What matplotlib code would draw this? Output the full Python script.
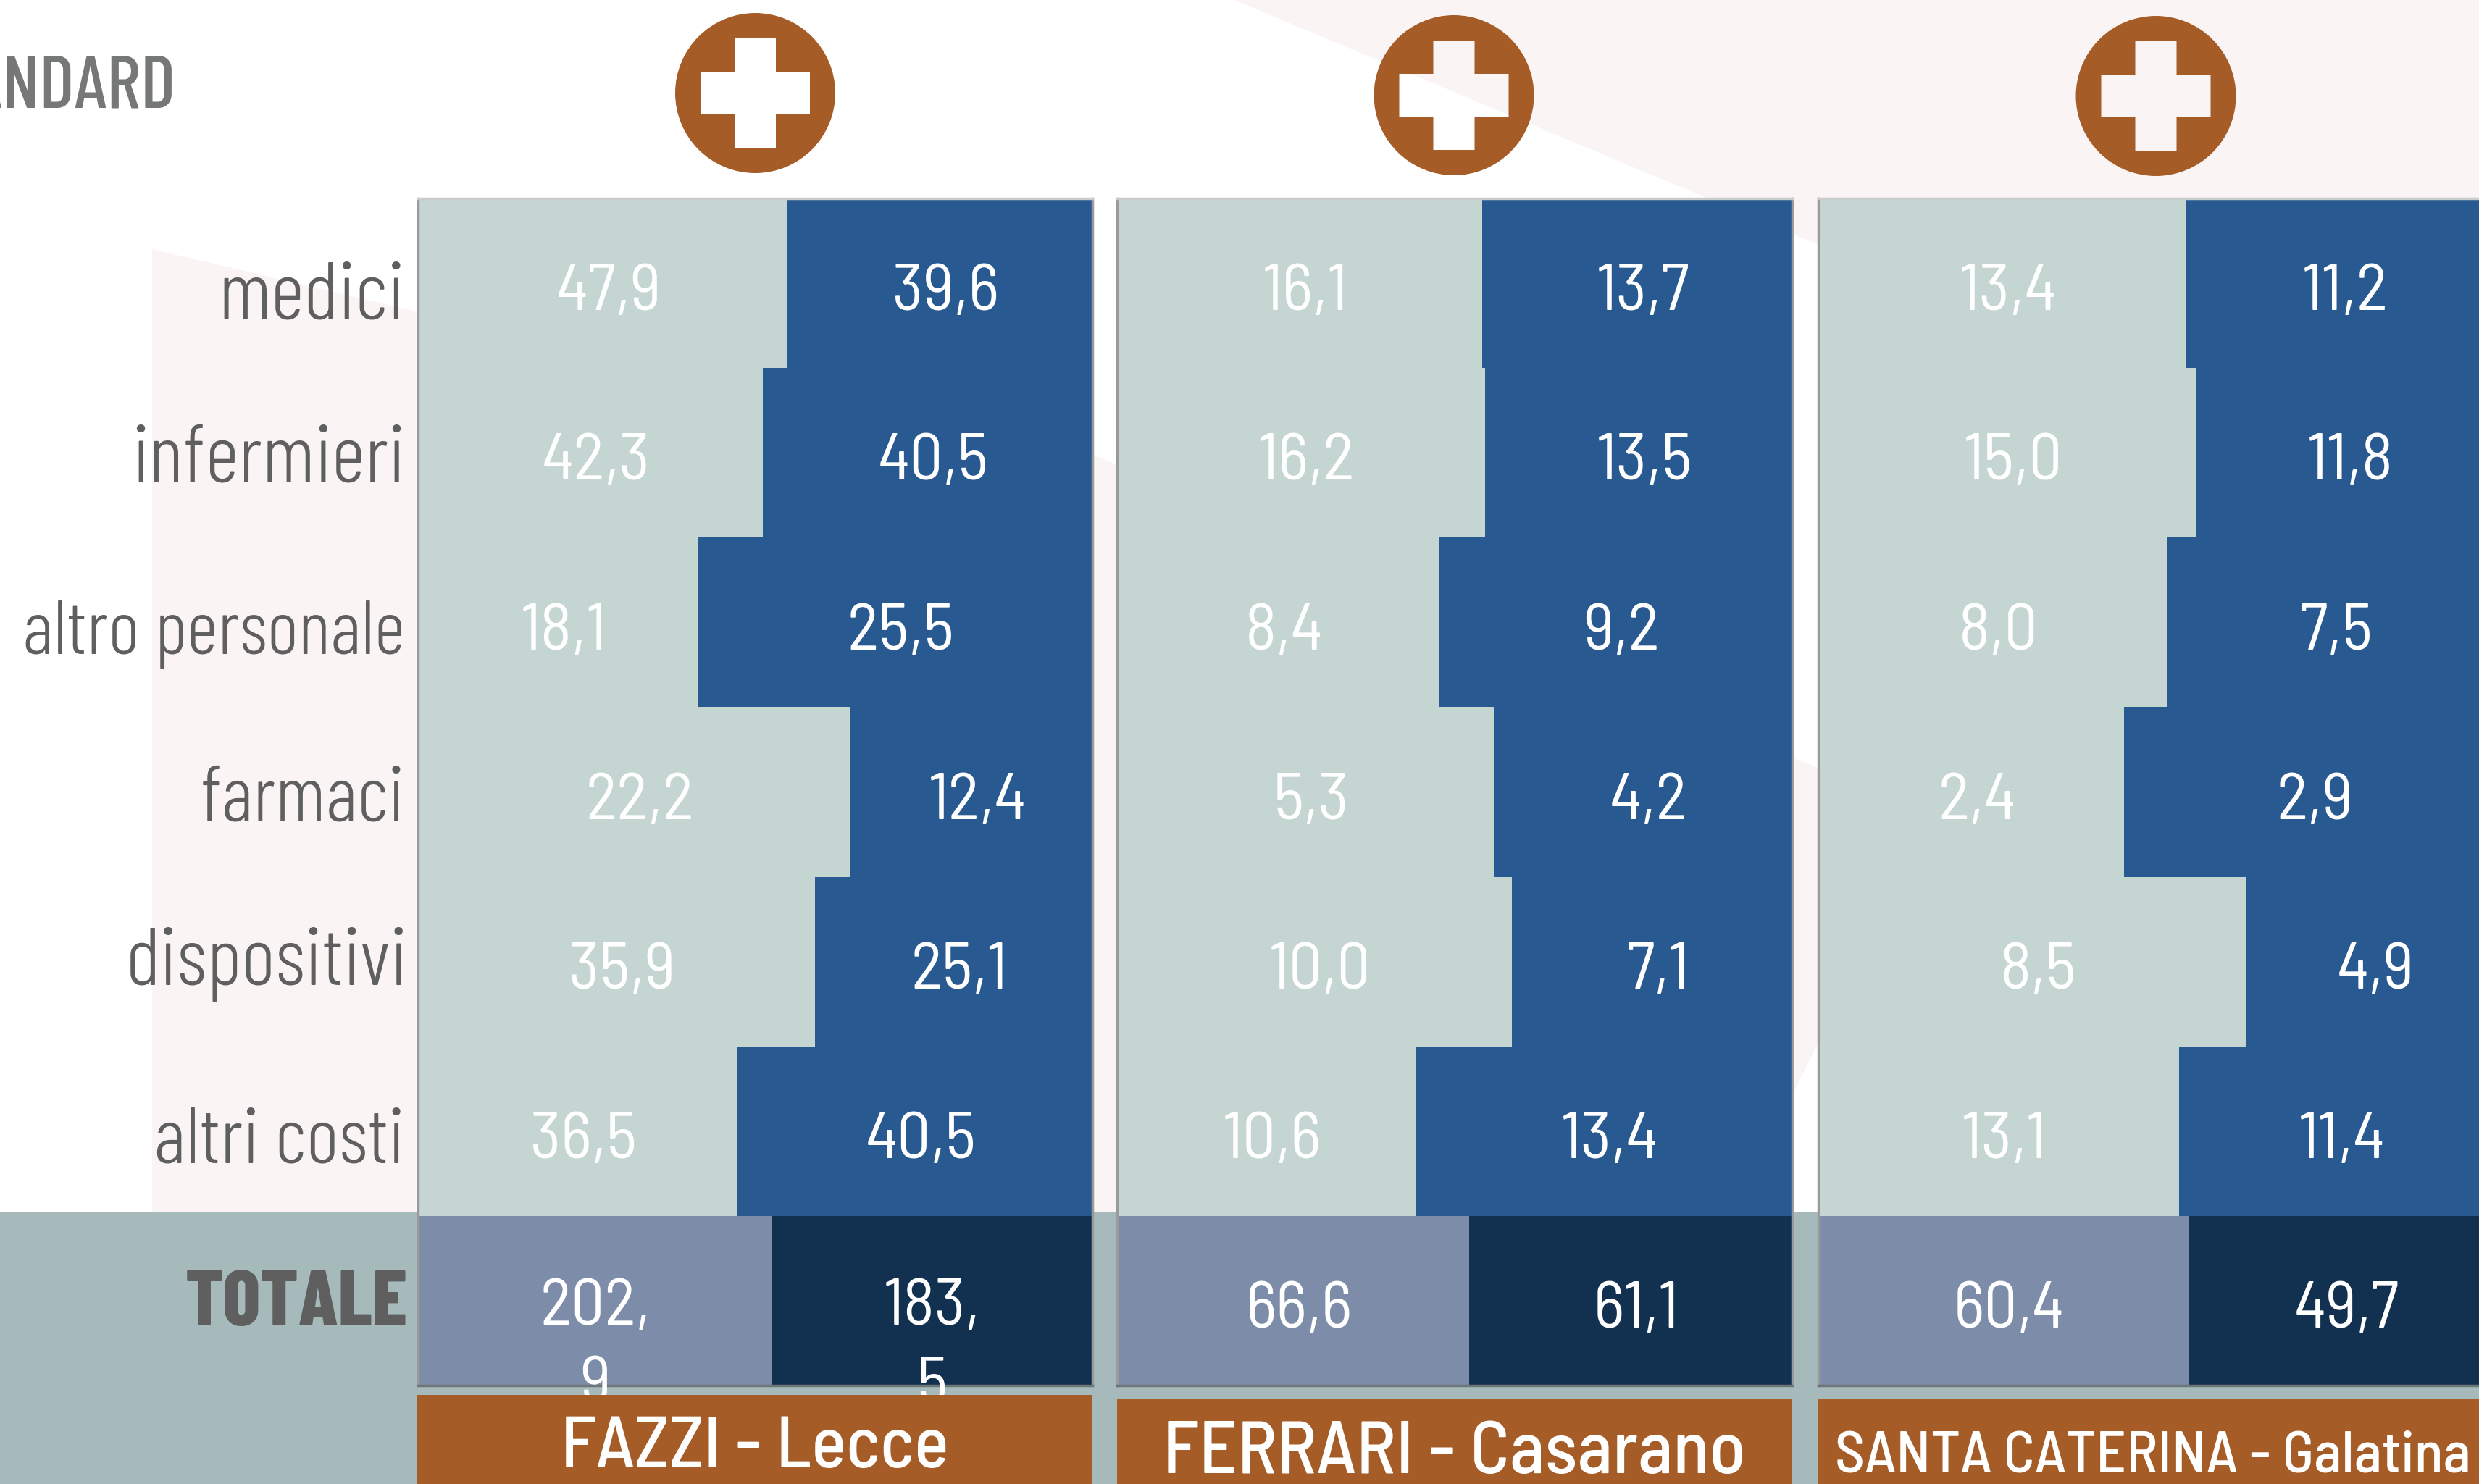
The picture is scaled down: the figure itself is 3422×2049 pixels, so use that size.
import matplotlib
matplotlib.use("Agg")
import numpy as np
import matplotlib.pyplot as plt
from matplotlib.patches import PathPatch, Polygon, Rectangle
from matplotlib.path import Path

W, H = 3422, 2049

categories = ["medici", "infermieri", "altro personale", "farmaci", "dispositivi", "altri costi", "TOTALE"]
hospitals = ["FAZZI - Lecce", "FERRARI - Casarano", "SANTA CATERINA - Galatina"]

# left / right cell of every row, last row is the total
fazzi_a = [47.9, 42.3, 18.1, 22.2, 35.9, 36.5, 202.9]
fazzi_b = [39.6, 40.5, 25.5, 12.4, 25.1, 40.5, 183.5]
ferrari_a = [16.1, 16.2, 8.4, 5.3, 10.0, 10.6, 66.6]
ferrari_b = [13.7, 13.5, 9.2, 4.2, 7.1, 13.4, 61.1]
caterina_a = [13.4, 15.0, 8.0, 2.4, 8.5, 13.1, 60.4]
caterina_b = [11.2, 11.8, 7.5, 2.9, 4.9, 11.4, 49.7]

PINK = "#FAF4F4"
TEAL = "#A6BABC"
BROWN = "#A65C27"
LIGHT = "#C5D5D2"
BLUE = "#285A91"
TOT_A = "#7D8CA8"
TOT_B = "#12304F"
GREY = "#5F5F5F"

NARROW = ["Barlow Condensed", "Liberation Sans Narrow", "DejaVu Sans"]
SEMI = ["Barlow Semi Condensed", "Liberation Sans Narrow", "DejaVu Sans"]
MEDIUM = ["Barlow Semi Condensed", "Barlow", "DejaVu Sans"]


def fmt(v):
    return f"{v:.1f}".replace(".", ",")


def px_axes(fig, z):
    ax = fig.add_axes([0, 0, 1, 1], zorder=z)
    ax.set_xlim(0, W)
    ax.set_ylim(H, 0)
    ax.axis("off")
    ax.patch.set_alpha(0)
    return ax


def plus_icon(ax, cx, cy):
    # disc with the cross cut out, background shows through
    circle = Path.unit_circle()
    verts = list(circle.vertices * 110.5 + [cx, cy])
    codes = list(circle.codes)
    a, b = 75.5, 28.5
    cross = [(-b, -a), (-b, -b - 1), (-a, -b - 1), (-a, b + 1), (-b, b + 1), (-b, a),
             (b, a), (b, b + 1), (a, b + 1), (a, -b - 1), (b, -b - 1), (b, -a), (-b, -a)]
    verts += [(cx + x, cy + y) for x, y in cross]
    codes += [Path.MOVETO] + [Path.LINETO] * 11 + [Path.CLOSEPOLY]
    ax.add_patch(PathPatch(Path(verts, codes), fc=BROWN, ec="none"))


fig = plt.figure(figsize=(W / 100, H / 100), dpi=100, facecolor="white")
bg = px_axes(fig, 0)
top = px_axes(fig, 5)

bg.add_patch(Polygon([(1704, 0), (W, 0), (W, 720)], fc=PINK, ec="none"))
bg.add_patch(Polygon([(210, 344), (574, 430), (1520, 632), (2476, 1047), (2510, 1060),
                      (2510, 1440), (2476, 1508), (2400, 1674), (210, 1674)], fc=PINK, ec="none"))
bg.add_patch(Rectangle((0, 1674), W, H - 1674, fc=TEAL, ec="none"))

bg.text(243, 149, "STANDARD", ha="right", va="baseline", fontsize=74, color="#757876",
        family=NARROW, fontweight=500)

plus_icon(bg, 1042.5, 128.5)
plus_icon(bg, 2007, 131.5)
plus_icon(bg, 2976, 132.5)

panels = [(577, 931, fazzi_a, fazzi_b), (1542, 932, ferrari_a, ferrari_b), (2510, 932, caterina_a, caterina_b)]
y = np.arange(len(categories))
panel_top, panel_bottom = 274, 1913

for left, panel_w, a, b in panels:
    a = np.array(a)
    b = np.array(b)
    ax = fig.add_axes([left / W, 1 - panel_bottom / H, panel_w / W, (panel_bottom - panel_top) / H], zorder=2)
    share = a / (a + b)
    ax.barh(y, share, height=1, color=[LIGHT] * 6 + [TOT_A])
    ax.barh(y, 1 - share, left=share, height=1, color=[BLUE] * 6 + [TOT_B])
    ax.set_xlim(0, 1)
    ax.set_ylim(6.5, -0.5)
    ax.set_xticks([])
    ax.set_yticks([])
    for s in ax.spines.values():
        s.set_color("#9A9A9A")
        s.set_linewidth(2.5)
    ax.spines["top"].set_color("#C8CCCC")
    ax.spines["bottom"].set_color("#6E7676")

    for i in y:
        for v, x in ((a[i], share[i] / 2), (b[i], share[i] + (1 - share[i]) / 2)):
            s = fmt(v)
            if v > 100:
                # the two big totals wrap in their cell
                s = s[:4] + "\n" + s[4:]
                ax.annotate(s, (x, i), xytext=(0, 31), textcoords="offset pixels", ha="center",
                            va="top", fontsize=66, color="white", family=SEMI, fontweight=400,
                            linespacing=1.4, annotation_clip=False)
            else:
                ax.annotate(s, (x, i), xytext=(8, -14), textcoords="offset pixels", ha="center",
                            va="center", fontsize=66, color="white", family=SEMI, fontweight=400,
                            annotation_clip=False)

    if left == 577:
        # row names sit by hand in the source, a little off each row centre
        drop = [49, 40, 44, 40, 32, 44, 34]
        sizes = [82, 82, 76, 78, 82, 79, 78]
        for i, name in zip(y, categories):
            bold = name == "TOTALE"
            ax.annotate(name, (0, i), xytext=(-18 if i not in (4, 6) else -14, -drop[i]),
                        textcoords="offset pixels", ha="right", va="baseline",
                        fontsize=sizes[i], color=GREY, family=NARROW,
                        fontweight=800 if bold else 300, annotation_clip=False)

# brown name plates
plates = [(576, 1926, 932, 1991, 72), (1542, 1931, 931, 1998, 74), (2510, 1931, 932, 2004, 58.5)]
for (x0, y0, w, yc, size), name in zip(plates, hospitals):
    top.add_patch(Rectangle((x0, y0), w, H - y0, fc=BROWN, ec="none"))
    cx = min(x0 + w / 2, 2972)
    top.text(cx, yc, name, ha="center", va="center_baseline", fontsize=size, color="white",
             family=MEDIUM, fontweight=500)

fig.savefig("out.png", dpi=100)
